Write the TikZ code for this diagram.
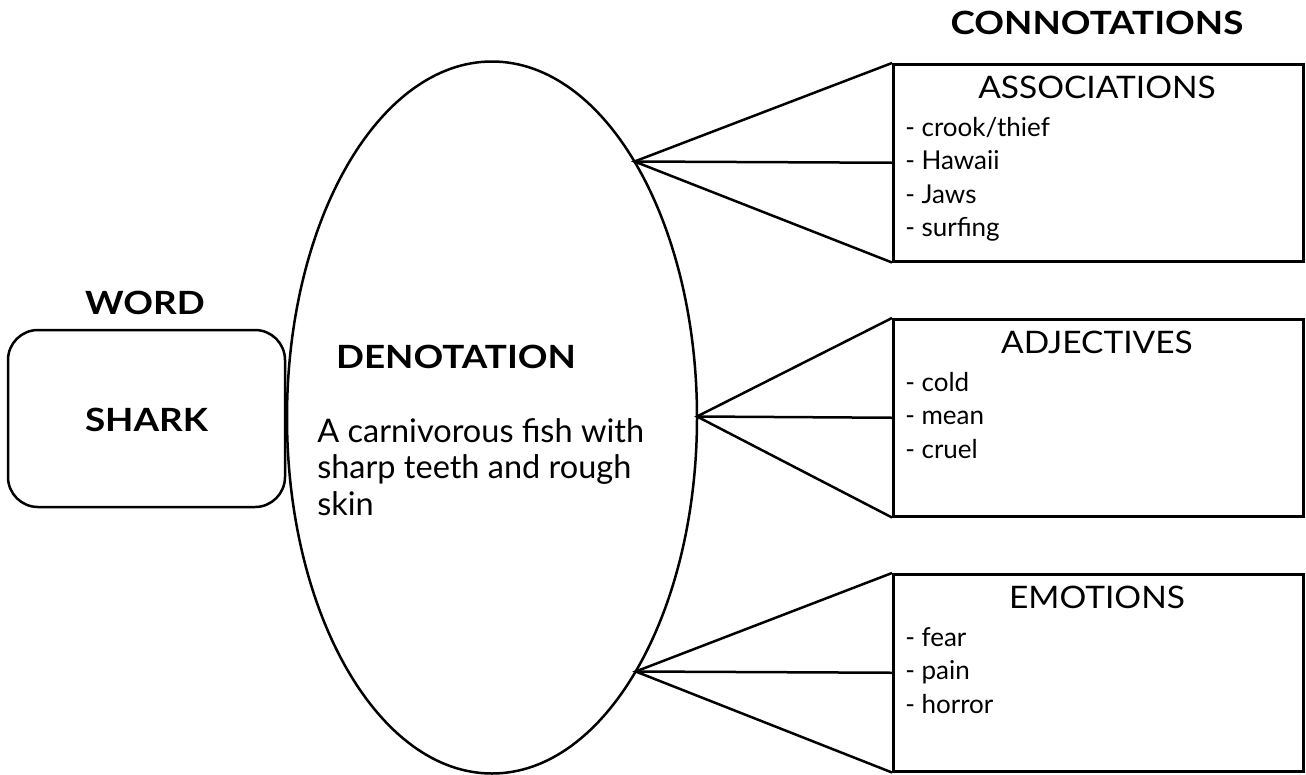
\documentclass[tikz,border=0pt]{standalone}
\usepackage{fontspec}
\setmainfont{Lato}
\newfontfamily\headfont{Lato}[FakeStretch=1.15]
\newfontfamily\capfont{Lato}[FakeStretch=1.08]
\usetikzlibrary{shapes.geometric}

\begin{document}
\begin{tikzpicture}[x=1pt,y=-1pt,line width=2.5pt,
  conbox/.style={draw,minimum width=410pt,minimum height=197pt,anchor=north west,inner sep=0pt},
  boxhead/.style={font=\capfont\fontsize{31}{33.5}\selectfont,anchor=base,inner sep=0pt},
  boxitems/.style={font=\fontsize{26}{33.5}\selectfont,align=left,anchor=base west,inner sep=0pt},
  bigword/.style={font=\headfont\bfseries\fontsize{32}{36}\selectfont,inner sep=0pt}]
\useasboundingbox (0,0) rectangle (1306,774);
% left side
\node[bigword] (wordlbl) at (145,303) {WORD};
\node[draw,rounded corners=30pt,minimum width=277pt,minimum height=177pt,inner sep=0pt] (word) at (146.5,418.5) {};
\node[bigword] (shark) at (146.5,420) {SHARK};
% denotation
\node[draw,ellipse,minimum width=410pt,minimum height=712pt,inner sep=0pt] (denot) at (492,417.5) {};
\node[bigword,anchor=base] (denlbl) at (456,368) {DENOTATION};
\node[font=\fontsize{32.5}{36.5}\selectfont,align=left,anchor=base west,inner sep=0pt] (dentxt) at (316,515) {A carnivorous fish with\\sharp teeth and rough\\skin};
% connotations
\node[bigword] (conlbl) at (1097,23) {CONNOTATIONS};
\node[conbox] (assoc) at (892,63) {};
\node[conbox] (adj) at (892,318) {};
\node[conbox] (emo) at (892,573) {};
\node[boxhead] (assochd) at (1097,98) {ASSOCIATIONS};
\node[boxhead] (adjhd) at (1097,353) {ADJECTIVES};
\node[boxhead] (emohd) at (1097,608) {EMOTIONS};
\node[boxitems] (assocls) at (904,236.5) {- crook/thief\\- Hawaii\\- Jaws\\- surfing};
\node[boxitems] (adjls) at (904,458) {- cold\\- mean\\- cruel};
\node[boxitems] (emols) at (904,713) {- fear\\- pain\\- horror};
% fans
\coordinate (tipa) at (634.5,161.5);
\coordinate (tipb) at (697,416.5);
\coordinate (tipc) at (635.7,671.5);
\draw (assoc.north west) -- (tipa) -- (assoc.south west);
\draw (tipa) -- (assoc.west);
\draw (adj.north west) -- (tipb) -- (adj.south west);
\draw (tipb) -- (adj.west);
\draw (emo.north west) -- (tipc) -- (emo.south west);
\draw (tipc) -- (emo.west);
\end{tikzpicture}
\end{document}
